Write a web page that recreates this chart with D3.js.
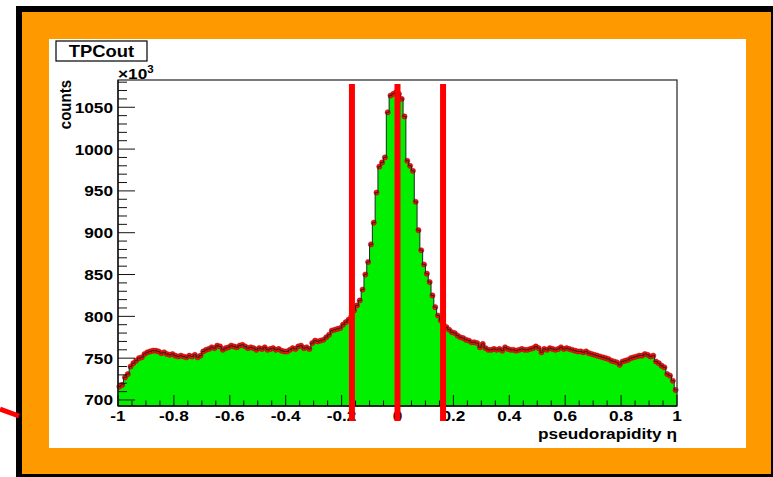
<!DOCTYPE html>
<html>
<head>
<meta charset="utf-8">
<script src="https://cdn.jsdelivr.net/npm/d3@7"></script>
<style>
  html, body { margin: 0; padding: 0; background: #fff; }
  svg { display: block; }
  text { font-family: "Liberation Sans", Arial, Helvetica, sans-serif; }
</style>
</head>
<body>
<script>
// pseudorapidity histogram, 200 bins of width 0.01 on [-1, 1] (counts in units of 10^3)
const binLow = -1;
const binWidth = 0.01;
const counts = [
  716, 718, 727, 731, 740, 744, 747, 750, 751, 755,
  757, 758, 759, 759, 758, 756, 757, 755, 754, 755,
  753, 752, 753, 752, 751, 753, 752, 754, 751, 753,
  758, 760, 761, 763, 762, 765, 764, 760, 762, 763,
  765, 764, 763, 765, 766, 764, 762, 763, 762, 760,
  762, 761, 763, 760, 761, 762, 760, 761, 759, 758,
  758, 760, 762, 761, 764, 765, 762, 763, 761, 768,
  771, 770, 771, 772, 775, 778, 783, 784, 785, 786,
  790, 793, 796, 800, 807, 813, 819, 832, 850, 865,
  886, 912, 948, 979, 984, 990, 1044, 1064, 1066, 1068,
  1066, 1060, 1039, 986, 980, 974, 937, 903, 879, 862,
  851, 841, 825, 811, 801, 795, 790, 787, 784, 781,
  780, 777, 775, 774, 772, 771, 769, 769, 768, 763,
  767, 762, 760, 760, 761, 760, 761, 759, 763, 761,
  760, 760, 759, 760, 761, 760, 760, 761, 762, 764,
  762, 757, 761, 760, 762, 761, 760, 761, 763, 761,
  762, 761, 760, 759, 758, 758, 757, 758, 756, 755,
  754, 753, 752, 751, 750, 749, 747, 746, 745, 742,
  746, 747, 748, 750, 751, 752, 753, 753, 755, 754,
  752, 753, 746, 744, 741, 739, 731, 729, 723, 712
];

const xTicks = [-1, -0.8, -0.6, -0.4, -0.2, 0, 0.2, 0.4, 0.6, 0.8, 1];
const xTickLabels = ["-1", "-0.8", "-0.6", "-0.4", "-0.2", "0", "0.2", "0.4", "0.6", "0.8", "1"];
const yTicks = [700, 750, 800, 850, 900, 950, 1000, 1050];
const yTickLabels = ["700", "750", "800", "850", "900", "950", "1000", "1050"];

// eta cut boundaries drawn as vertical bars
const cutEdges = [-0.163, 0, 0.163];

const titleText = "TPCout";
const xTitle = "pseudorapidity \u03b7";
const yTitle = "counts";

const W = 773, H = 477;
const frame = { left: 118, right: 677, top: 80, bottom: 406 };
const stretch = 1.15;

const svg = d3.select("body").append("svg").attr("width", W).attr("height", H);

// canvas decoration: black outer border, orange band, white pad
svg.append("rect").attr("x", 0).attr("y", 0).attr("width", W).attr("height", H).attr("fill", "#fff");
svg.append("rect").attr("x", 16).attr("y", 6).attr("width", W - 16).attr("height", H - 6).attr("fill", "#000");
svg.append("rect").attr("x", 22).attr("y", 12).attr("width", 749).attr("height", 462).attr("fill", "#ff9900");
svg.append("rect").attr("x", 49).attr("y", 39).attr("width", 697).attr("height", 409).attr("fill", "#fff");
svg.append("line").attr("x1", 0).attr("y1", 409).attr("x2", 19).attr("y2", 416)
  .attr("stroke", "#ff0000").attr("stroke-width", 5);

const x = d3.scaleLinear().domain([-1, 1]).range([frame.left, frame.right]);
const y = d3.scaleLinear().domain([692.8, 1082.6]).range([frame.bottom, frame.top]);

// histogram body
const bins = counts.map((v, i) => ({ x0: binLow + i * binWidth, x1: binLow + (i + 1) * binWidth, v }));
const area = d3.area()
  .x(d => x(d.x))
  .y0(frame.bottom)
  .y1(d => y(d.v))
  .curve(d3.curveStepAfter);
const stepPts = bins.map(b => ({ x: b.x0, v: b.v })).concat([{ x: 1, v: counts[counts.length - 1] }]);
svg.append("path").datum(stepPts).attr("d", area).attr("fill", "#00f000");

// bin markers
svg.append("g").selectAll("circle").data(bins).join("circle")
  .attr("cx", b => x((b.x0 + b.x1) / 2))
  .attr("cy", b => y(b.v))
  .attr("r", 2.6)
  .attr("fill", "#f21212")
  .attr("stroke", "#b40000")
  .attr("stroke-width", 0.5);

// step outline
const line = d3.line().x(d => x(d.x)).y(d => y(d.v)).curve(d3.curveStepAfter);
svg.append("path").datum(stepPts).attr("d", line)
  .attr("fill", "none").attr("stroke", "#1c2a1c").attr("stroke-width", 1);

// frame
svg.append("rect")
  .attr("x", frame.left).attr("y", frame.top)
  .attr("width", frame.right - frame.left).attr("height", frame.bottom - frame.top)
  .attr("fill", "none").attr("stroke", "#333").attr("stroke-width", 1.3);

// y axis ticks (inward), minor every 10
const axisColor = "#111";
const yMinor = d3.range(700, 1081, 10);
svg.append("g").selectAll("line").data(yMinor).join("line")
  .attr("x1", frame.left).attr("x2", v => frame.left + (v % 50 === 0 ? 17 : 9))
  .attr("y1", v => y(v)).attr("y2", v => y(v))
  .attr("stroke", axisColor).attr("stroke-width", 1);
// x axis ticks (upward), minor every 0.05
const xMinor = d3.range(0, 41).map(k => -1 + k * 0.05);
svg.append("g").selectAll("line").data(xMinor).join("line")
  .attr("x1", v => x(v)).attr("x2", v => x(v))
  .attr("y1", frame.bottom).attr("y2", (v, k) => frame.bottom - (k % 4 === 0 ? 11 : 5.5))
  .attr("stroke", axisColor).attr("stroke-width", 1);
svg.append("line").attr("x1", frame.left).attr("x2", frame.left)
  .attr("y1", frame.top).attr("y2", frame.bottom).attr("stroke", axisColor).attr("stroke-width", 1.3);
svg.append("line").attr("x1", frame.left).attr("x2", frame.right)
  .attr("y1", frame.bottom).attr("y2", frame.bottom).attr("stroke", axisColor).attr("stroke-width", 1.3);

function label(g, tx, ty, str, opts) {
  const o = Object.assign({ size: 15, anchor: "middle", weight: "bold", rotate: 0 }, opts || {});
  const t = g.append("text")
    .attr("transform", `translate(${tx},${ty}) scale(${stretch},1)` + (o.rotate ? ` rotate(${o.rotate})` : ""))
    .attr("text-anchor", o.anchor)
    .attr("font-size", o.size)
    .attr("font-weight", o.weight)
    .attr("fill", "#000")
    .text(str);
  return t;
}

const labels = svg.append("g");
yTicks.forEach((v, i) => label(labels, 113, y(v) + 5.5, yTickLabels[i], { anchor: "end" }));
xTicks.forEach((v, i) => label(labels, x(v), 421, xTickLabels[i], { anchor: "middle" }));

// multiplier on the y axis
const mult = labels.append("text")
  .attr("transform", `translate(${frame.left},79) scale(${stretch},1)`)
  .attr("font-size", 15).attr("font-weight", "bold").attr("fill", "#000");
mult.append("tspan").text("\u00d710");
mult.append("tspan").attr("font-size", 10).attr("dy", -6).text("3");

// axis titles
label(labels, frame.right, 438.5, xTitle, { anchor: "end", size: 15 });
label(labels, 71, frame.top, yTitle, { anchor: "end", size: 15, rotate: -90 });

// title box
svg.append("rect").attr("x", 56).attr("y", 41).attr("width", 91).attr("height", 20)
  .attr("fill", "#fff").attr("stroke", "#000").attr("stroke-width", 1.2);
label(svg, 101.5, 57, titleText, { size: 16 });

// cut bars
svg.append("g").selectAll("line").data(cutEdges).join("line")
  .attr("x1", v => x(v)).attr("x2", v => x(v))
  .attr("y1", y(1077.8)).attr("y2", frame.bottom + 15)
  .attr("stroke", "#ff0000").attr("stroke-width", 6);
</script>
</body>
</html>
